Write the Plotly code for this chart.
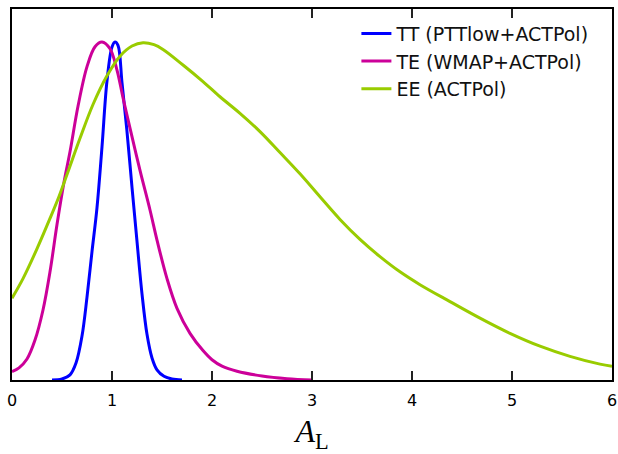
import plotly.graph_objects as go

# ---- data ----
tt_x = [0.40, 0.50, 0.58, 0.64, 0.70, 0.75, 0.80, 0.85, 0.90, 0.95, 1.00, 1.03, 1.06,
        1.10, 1.15, 1.20, 1.25, 1.30, 1.35, 1.40, 1.45, 1.52, 1.60, 1.70]
tt_y = [0.0, 0.003, 0.015, 0.05, 0.13, 0.245, 0.38, 0.51, 0.69, 0.885, 0.985, 1.0, 0.99,
        0.88, 0.735, 0.57, 0.41, 0.255, 0.135, 0.065, 0.03, 0.011, 0.003, 0.0]

te_x = [0.0, 0.07, 0.15, 0.23, 0.31, 0.38, 0.45, 0.52, 0.58, 0.66, 0.75, 0.83, 0.90,
        0.98, 1.05, 1.11, 1.18, 1.28, 1.38, 1.45, 1.55, 1.65, 1.78, 1.91, 2.0, 2.1,
        2.25, 2.5, 2.75, 3.0]
te_y = [0.025, 0.036, 0.062, 0.118, 0.207, 0.32, 0.46, 0.585, 0.675, 0.81, 0.927, 0.986, 1.0,
        0.98, 0.917, 0.835, 0.745, 0.62, 0.503, 0.414, 0.30, 0.212, 0.138, 0.087, 0.060, 0.041,
        0.026, 0.012, 0.004, 0.0]

ee_x = [0.0, 0.11, 0.245, 0.38, 0.47, 0.55, 0.68, 0.81, 0.95, 1.08, 1.20, 1.31, 1.42,
        1.51, 1.71, 1.91, 2.08, 2.28, 2.48, 2.68, 2.88, 3.08, 3.28, 3.48, 3.68, 3.88,
        4.08, 4.38, 4.68, 4.98, 5.28, 5.58, 5.88, 6.0]
ee_y = [0.242, 0.300, 0.385, 0.478, 0.543, 0.608, 0.715, 0.815, 0.900, 0.958, 0.988, 0.998, 0.992,
        0.978, 0.932, 0.883, 0.838, 0.789, 0.735, 0.673, 0.610, 0.542, 0.475, 0.416, 0.365, 0.320,
        0.282, 0.232, 0.183, 0.138, 0.100, 0.070, 0.047, 0.041]

x_ticks = [0, 1, 2, 3, 4, 5, 6]

names = ["TT (PTTlow+ACTPol)", "TE (WMAP+ACTPol)", "EE (ACTPol)"]
colors = ["#0000ff", "#cc0099", "#99cc00"]

fig = go.Figure()
for xs, ys, nm, c in zip([tt_x, te_x, ee_x], [tt_y, te_y, ee_y], names, colors):
    fig.add_trace(go.Scatter(x=xs, y=ys, mode="lines", name=nm,
                             line=dict(color=c, width=3, shape="spline", smoothing=1.0)))

fig.update_layout(
    width=618, height=454,
    margin=dict(l=12, r=6, t=9, b=74, autoexpand=False),
    plot_bgcolor="white", paper_bgcolor="white",
    font=dict(family="DejaVu Sans", size=16, color="black"),
    showlegend=True,
    legend=dict(x=0.574, y=0.985, xanchor="left", yanchor="top",
                bgcolor="rgba(0,0,0,0)", borderwidth=0,
                font=dict(family="DejaVu Sans", size=19, color="#111111"),
                tracegroupgap=0),
    xaxis=dict(range=[0, 6], tickvals=x_ticks, ticktext=[str(t) for t in x_ticks],
               ticks="inside", ticklen=9, tickwidth=1.8, tickcolor="#222222",
               showline=True, linecolor="black", linewidth=2, mirror="ticks",
               showgrid=False, zeroline=False, automargin=False,
               ticklabelstandoff=5,
               tickfont=dict(family="DejaVu Sans", size=16, color="black"),
               title=dict(text="<i>A</i><sub>L</sub>",
                          font=dict(family="Liberation Serif", size=32, color="black"),
                          standoff=21)),
    yaxis=dict(range=[0, 1.0976], showticklabels=False, ticks="",
               showline=True, linecolor="black", linewidth=2, mirror=True,
               showgrid=False, zeroline=False, automargin=False),
)

fig.write_html("out.html", config={"displayModeBar": False},
               post_script="document.body.style.margin='0';document.body.style.overflow='hidden';")
